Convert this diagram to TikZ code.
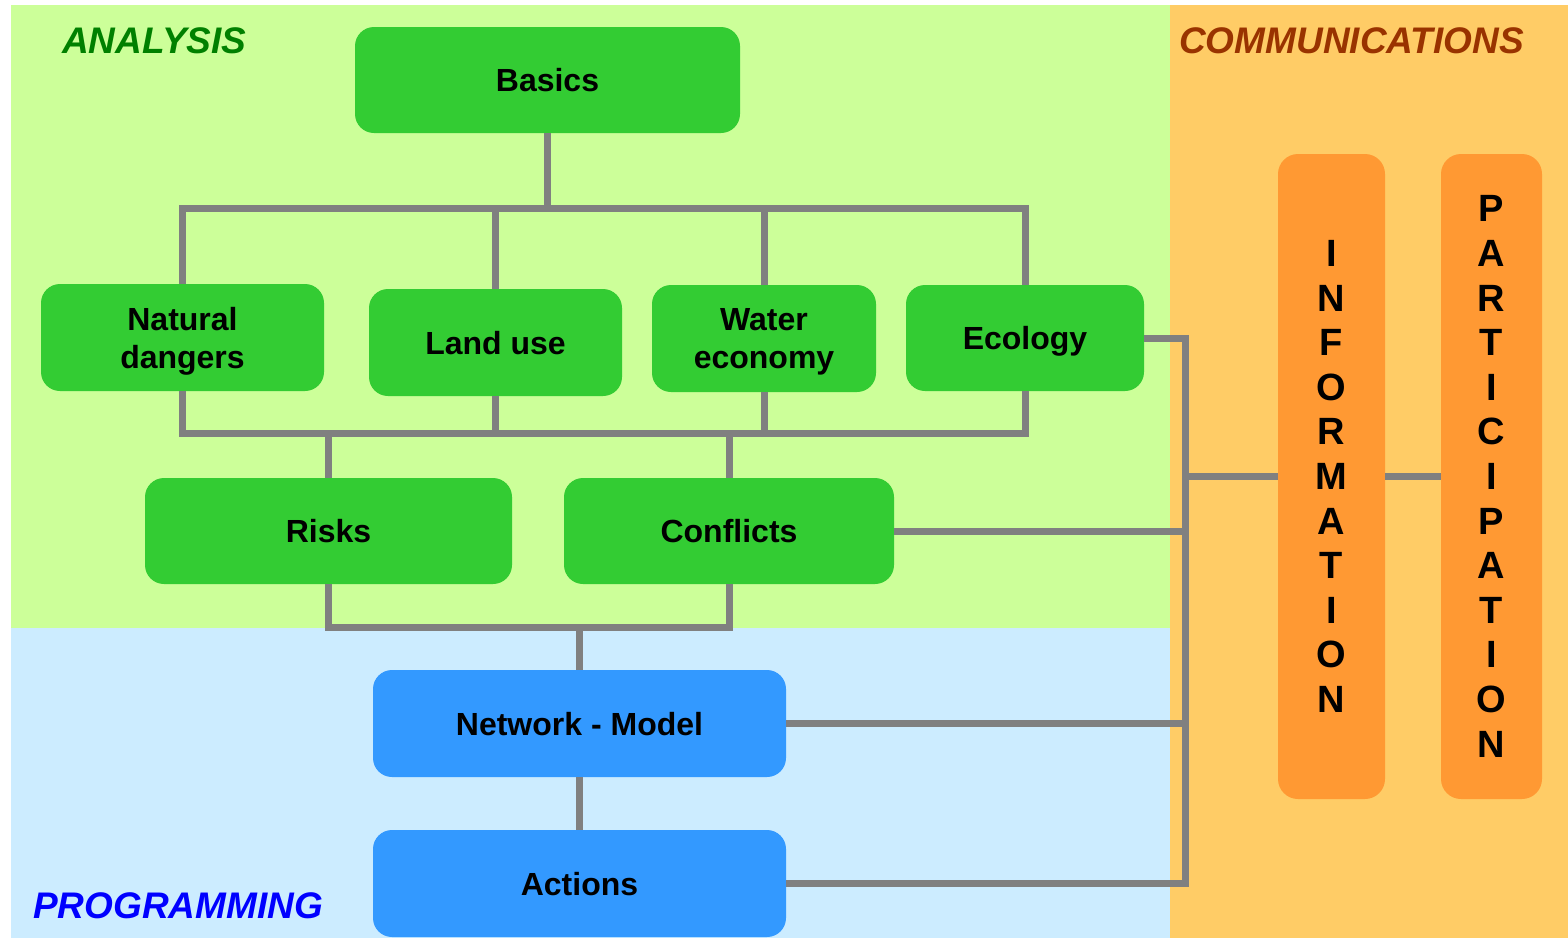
\documentclass[tikz,border=0pt]{standalone}
\usepackage{fontspec}
\setmainfont{Liberation Sans}
\begin{document}
\begin{tikzpicture}[x=1pt,y=-1pt,
  conn/.style={draw=linegray,line width=7pt,line join=miter},
  box/.style={rounded corners=19pt,inner sep=0pt,align=center,
    font=\fontsize{32}{38}\selectfont\bfseries},
  gbox/.style={box,fill=boxgreen,text depth=0pt},
  bbox/.style={box,fill=boxblue,text depth=0pt},
  obox/.style={box,fill=boxorange,rounded corners=20pt,
    font=\fontsize{38}{44.6}\selectfont\bfseries},
  title/.style={anchor=base west,inner sep=0pt,
    font=\fontsize{37}{40}\selectfont\bfseries\itshape}]
\definecolor{linegray}{HTML}{808080}
\definecolor{boxgreen}{HTML}{33CC33}
\definecolor{boxblue}{HTML}{3399FF}
\definecolor{boxorange}{HTML}{FF9933}
\definecolor{pgreen}{HTML}{CCFF99}
\definecolor{pblue}{HTML}{CCECFF}
\definecolor{porange}{HTML}{FFCC66}
\definecolor{tgreen}{HTML}{008000}
\definecolor{tbrown}{HTML}{993300}
\definecolor{tblue}{HTML}{0000FF}
\useasboundingbox (0,0) rectangle (1568,938);
\fill[white] (0,0) rectangle (1568,938);
% panels
\fill[pgreen] (11,5) rectangle (1170,628);
\fill[pblue] (11,628) rectangle (1170,938);
\fill[porange] (1170,5) rectangle (1568,938);
% titles
\node[title,text=tgreen] (tana) at (62,53) {ANALYSIS};
\node[title,text=tbrown] (tcom) at (1179,53) {COMMUNICATIONS};
\node[title,text=tblue] (tprog) at (33,918) {PROGRAMMING};
% boxes
\node[gbox,minimum width=385pt,minimum height=106pt] (basics) at (547.5,80) {Basics};
\node[gbox,minimum width=283pt,minimum height=107pt] (nat) at (182.5,337.5) {Natural\\dangers};
\node[gbox,minimum width=253pt,minimum height=107pt] (land) at (495.5,342.5) {Land use};
\node[gbox,minimum width=224pt,minimum height=107pt] (water) at (764,338.5) {Water\\economy};
\node[gbox,minimum width=238pt,minimum height=106pt] (eco) at (1025,338) {Ecology};
\node[gbox,minimum width=367pt,minimum height=106pt] (risks) at (328.5,531) {Risks};
\node[gbox,minimum width=330pt,minimum height=106pt] (conf) at (729,531) {Conflicts};
\node[bbox,minimum width=413pt,minimum height=107pt] (net) at (579.5,723.5) {Network - Model};
\node[bbox,minimum width=413pt,minimum height=107pt] (act) at (579.5,883.5) {Actions};
\node[obox,minimum width=107pt,minimum height=645pt] (info) at (1331.5,476.5)
  {I\\N\\F\\O\\R\\M\\A\\T\\I\\O\\N};
\node[obox,minimum width=101pt,minimum height=645pt] (part) at (1491.5,476.5)
  {P\\A\\R\\T\\I\\C\\I\\P\\A\\T\\I\\O\\N};
% bus coordinates
\coordinate (tb) at (0,208);
\coordinate (bb) at (0,433);
\coordinate (rb) at (0,627);
\coordinate (rx) at (1185,0);
% connectors
\draw[conn] (basics.south) -- (basics.south |- tb);
\draw[conn] (nat.north) -- (nat.north |- tb) -- (eco.north |- tb) -- (eco.north);
\draw[conn] (land.north) -- (land.north |- tb);
\draw[conn] (water.north) -- (water.north |- tb);
\draw[conn] (nat.south) -- (nat.south |- bb) -- (eco.south |- bb) -- (eco.south);
\draw[conn] (land.south) -- (land.south |- bb);
\draw[conn] (water.south) -- (water.south |- bb);
\draw[conn] (risks.north) -- (risks.north |- bb);
\draw[conn] (conf.north) -- (conf.north |- bb);
\draw[conn] (risks.south) -- (risks.south |- rb) -- (conf.south |- rb) -- (conf.south);
\draw[conn] (net.north) -- (net.north |- rb);
\draw[conn] (net.south) -- (act.north);
\draw[conn] (eco.east) -- (eco.east -| rx) -- (act.east -| rx) -- (act.east);
\draw[conn] (conf.east) -- (conf.east -| rx);
\draw[conn] (net.east) -- (net.east -| rx);
\draw[conn] (info.west) -- (info.west -| rx);
\draw[conn] (info.east) -- (part.west);
\end{tikzpicture}
\end{document}
